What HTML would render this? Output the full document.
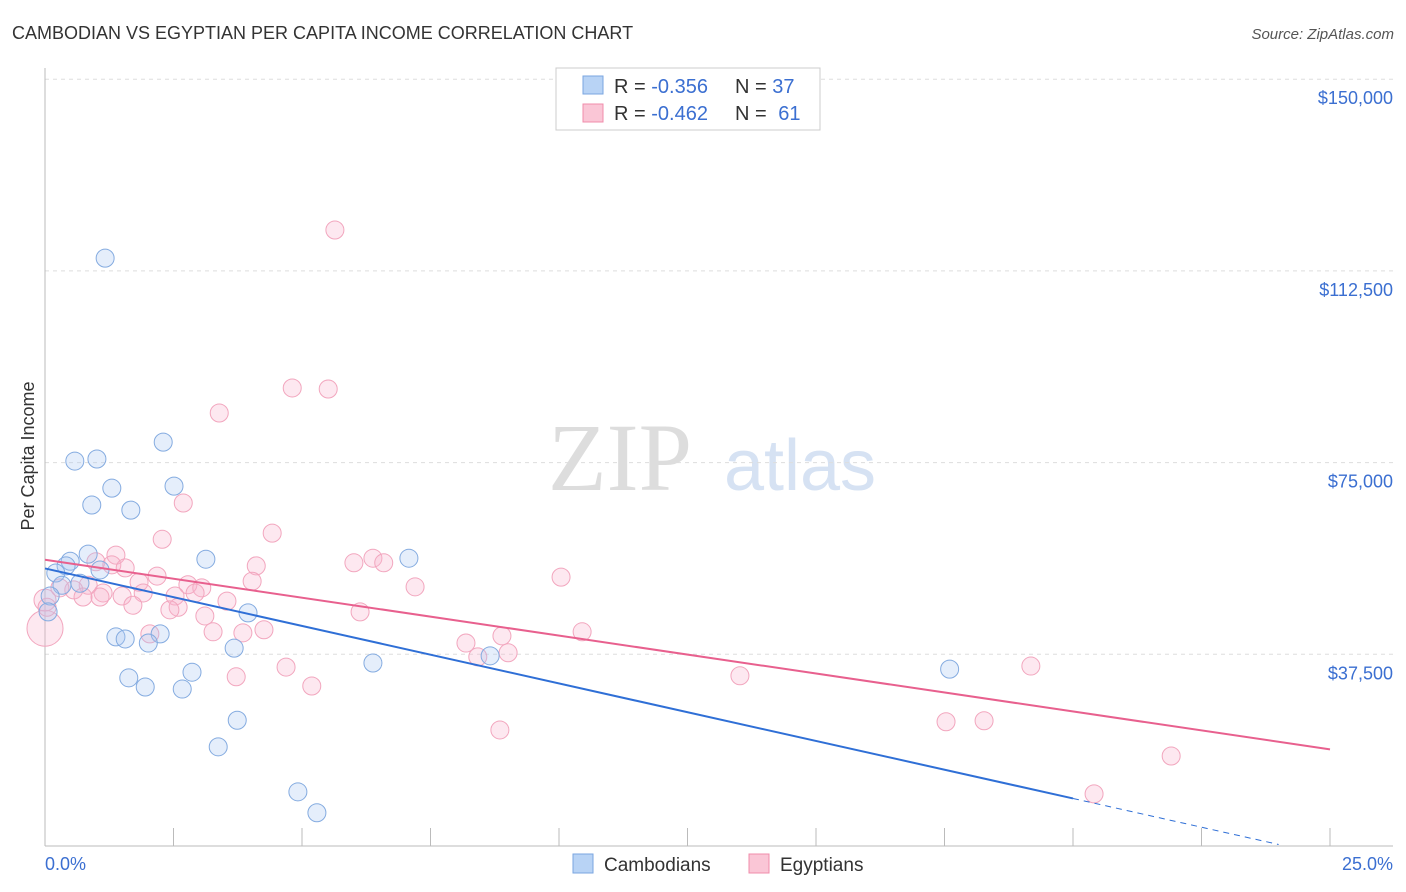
<!DOCTYPE html>
<html><head><meta charset="utf-8"><style>
body{margin:0;background:#fff;font-family:"Liberation Sans",sans-serif;}
svg{display:block}
</style></head><body>
<svg id="chart" width="1406" height="892">
<text x="12" y="39" font-size="18" fill="#333">CAMBODIAN VS EGYPTIAN PER CAPITA INCOME CORRELATION CHART</text>
<text x="1394" y="39" font-size="15" fill="#555" font-style="italic" text-anchor="end">Source: ZipAtlas.com</text>
<text x="620" y="490" font-size="96" fill="#ddd" font-family="Liberation Serif,serif" text-anchor="middle">ZIP</text>
<text x="800" y="490" font-size="72" fill="#d6e2f3" text-anchor="middle">atlas</text>
<text transform="translate(34,456) rotate(-90)" font-size="18" fill="#333" text-anchor="middle">Per Capita Income</text>
<g id="grid"></g><g id="marks"></g>
<g>
<rect x="556" y="68" width="264" height="62" fill="#fff" stroke="#ccc"/>
<rect x="583" y="76" width="20" height="18" fill="#b8d3f5" stroke="#7aa6e0"/>
<rect x="583" y="104" width="20" height="18" fill="#fac6d6" stroke="#f08cab"/>
<text x="614" y="93" font-size="20" fill="#333">R = <tspan fill="#3b6fd1">-0.356</tspan></text>
<text x="735" y="93" font-size="20" fill="#333">N = <tspan fill="#3b6fd1">37</tspan></text>
<text x="614" y="120" font-size="20" fill="#333">R = <tspan fill="#3b6fd1">-0.462</tspan></text>
<text x="735" y="120" font-size="20" fill="#333">N = <tspan fill="#3b6fd1" dx="6">61</tspan></text>
</g>
<g>
<rect x="573" y="854" width="20" height="19" fill="#b8d3f5" stroke="#7aa6e0"/>
<text x="604" y="871" font-size="19" fill="#333">Cambodians</text>
<rect x="749" y="854" width="20" height="19" fill="#fac6d6" stroke="#f08cab"/>
<text x="780" y="871" font-size="19" fill="#333">Egyptians</text>
</g>
<text x="45" y="870" font-size="18" fill="#3b6fd1">0.0%</text>
<text x="1393" y="870" font-size="18" fill="#3b6fd1" text-anchor="end">25.0%</text>
</svg>
<script>
const yTicks=[37500,75000,112500,150000];
const yTickLabels=["$37,500","$75,000","$112,500","$150,000"];
const xTicks=[0,2.5,5,7.5,10,12.5,15,17.5,20,22.5,25];
const camX=[1.17,0.58,1.01,2.30,1.30,0.91,1.67,2.51,0.84,0.49,0.41,0.21,1.07,0.33,0.68,0.10,0.06,3.13,7.08,3.95,1.38,1.56,2.24,2.01,3.68,2.86,6.38,8.66,17.6,1.63,1.95,2.67,3.74,3.37,4.92,5.29];
const camY=[115000,75300,75700,79000,70000,66700,65700,70400,57100,55700,54800,53400,54000,51000,51400,48900,45800,56100,56300,45600,40900,40500,41500,39700,38700,34000,35800,37200,34600,32900,31100,30700,24600,19400,10600,6500];
const egyX=[5.64,4.81,5.51,3.39,2.69,4.42,2.28,1.38,0.99,1.30,1.56,2.18,4.11,6.01,6.38,6.59,10.04,1.83,2.78,4.03,3.05,7.20,0.84,0.56,0.29,1.13,1.50,1.91,2.53,2.92,0.74,1.07,1.71,2.59,2.43,3.54,3.11,6.13,2.04,3.27,3.85,4.26,10.45,8.19,8.89,8.42,9.01,4.69,3.72,5.19,13.52,19.18,17.53,18.27,8.85,21.91,20.41,0,0,0.04];
const egyY=[120500,89600,89400,84700,67100,61200,60000,56900,55600,55000,54400,52800,54800,55400,56300,55400,52600,51600,51100,51800,50500,50700,51000,50100,50500,49500,48900,49500,48900,49500,48700,48700,47100,46700,46200,47900,45000,45800,41500,41900,41700,42300,41900,39700,41100,37000,37800,35000,33100,31300,33300,35200,24300,24500,22700,17600,10200,42600,48100,46700];
const egyR=[9,9,9,9,9,9,9,9,9,9,9,9,9,9,9,9,9,9,9,9,9,9,9,9,9,9,9,9,9,9,9,9,9,9,9,9,9,9,9,9,9,9,9,9,9,9,9,9,9,9,9,9,9,9,9,9,9,18,11,9];
const camLine=[0,54300,20,9300];
const egyLine=[0,56000,25,18900];
const X=v=>45+v/25*1285, Y=v=>846-v/37500*191.7;
const NS="http://www.w3.org/2000/svg";
const grid=document.getElementById('grid'),marks=document.getElementById('marks');
function mk(tag,at,p){const e=document.createElementNS(NS,tag);for(const k in at)e.setAttribute(k,at[k]);p.appendChild(e);return e;}
yTicks.forEach((t,i)=>{
 const l=mk('line',{x1:45,x2:1393,y1:Y(t),y2:Y(t),stroke:'#ddd','stroke-dasharray':'4,4'},grid);
 
 
 const tx=mk('text',{x:1393,y:Y(t)+25,'font-size':18,fill:'#3b6fd1','text-anchor':'end'},grid);
 tx.textContent=yTickLabels[i];
 
 
});
const ax=mk('line',{x1:45,x2:45,y1:68,y2:846,stroke:'#bbb'},grid);


const bx=mk('line',{x1:45,x2:1393,y1:846,y2:846,stroke:'#bbb'},grid);


xTicks.forEach(t=>{
 const l=mk('line',{x1:X(t),x2:X(t),y1:828,y2:846,stroke:'#bbb'},grid);
 
 
});
egyX.forEach((v,i)=>{
 const c=mk('circle',{cx:X(v),cy:Y(egyY[i]),r:egyR[i],fill:'rgba(248,180,204,0.3)',stroke:'#f2a6be','stroke-width':1},marks);
 
 
});
camX.forEach((v,i)=>{
 const c=mk('circle',{cx:X(v),cy:Y(camY[i]),r:9,fill:'rgba(170,200,242,0.3)',stroke:'#84abe0','stroke-width':1},marks);
 
 
});
const cs=(camLine[3]-camLine[1])/(camLine[2]-camLine[0]);
const l1=mk('line',{x1:X(camLine[0]),y1:Y(camLine[1]),x2:X(camLine[2]),y2:Y(camLine[3]),stroke:'#2f6fd6','stroke-width':2},marks);


const xe=(0-camLine[1])/cs;
const l1d=mk('line',{x1:X(camLine[2]),y1:Y(camLine[3]),x2:X(Math.min(xe,24)),y2:Y(camLine[1]+cs*Math.min(xe,24)),stroke:'#2f6fd6','stroke-width':1,'stroke-dasharray':'6,5'},marks);


const l2=mk('line',{x1:X(egyLine[0]),y1:Y(egyLine[1]),x2:X(egyLine[2]),y2:Y(egyLine[3]),stroke:'#e8608e','stroke-width':2},marks);


</script>
</body></html>
